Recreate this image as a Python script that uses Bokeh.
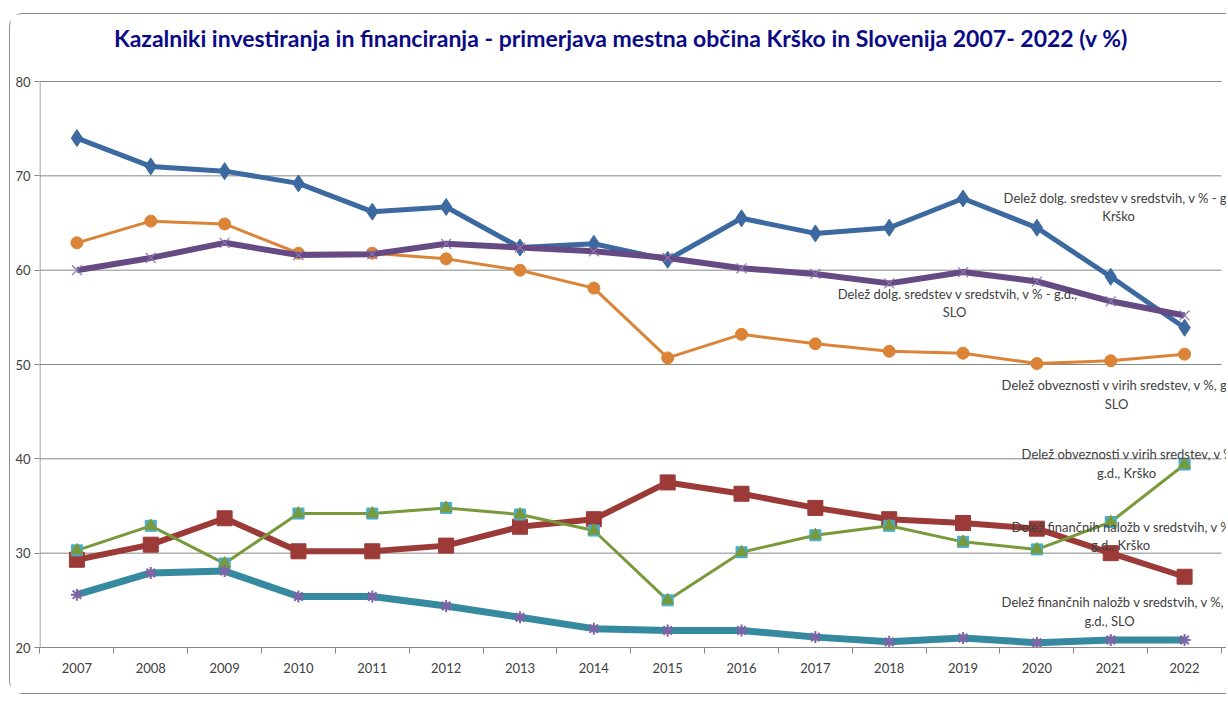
from bokeh.plotting import figure
from bokeh.models import Label, FixedTicker, Range1d
from bokeh.embed import file_html
from bokeh.resources import INLINE

FONT = "Lato"

years = list(range(2007, 2023))
y_ticks = [20, 30, 40, 50, 60, 70, 80]
grid_vals = [30, 40, 50, 60, 70, 80]

dolg_krsko = [74.0, 71.0, 70.5, 69.2, 66.2, 66.7, 62.4, 62.8, 61.1, 65.5, 63.9, 64.5, 67.6, 64.5, 59.3, 53.9]
obv_slo = [62.9, 65.2, 64.9, 61.8, 61.8, 61.2, 60.0, 58.1, 50.7, 53.2, 52.2, 51.4, 51.2, 50.1, 50.4, 51.1]
dolg_slo = [60.0, 61.3, 62.9, 61.6, 61.7, 62.8, 62.4, 62.0, 61.3, 60.2, 59.6, 58.6, 59.8, 58.8, 56.7, 55.2]
nal_krsko = [29.3, 30.9, 33.7, 30.2, 30.2, 30.8, 32.8, 33.6, 37.5, 36.3, 34.8, 33.6, 33.2, 32.6, 30.0, 27.5]
obv_krsko = [30.3, 32.9, 28.9, 34.2, 34.2, 34.8, 34.1, 32.4, 25.0, 30.1, 31.9, 32.9, 31.2, 30.4, 33.3, 39.4]
nal_slo = [25.6, 27.9, 28.1, 25.4, 25.4, 24.4, 23.2, 22.0, 21.8, 21.8, 21.1, 20.6, 21.0, 20.5, 20.8, 20.8]

title_text = "Kazalniki investiranja in financiranja - primerjava mestna občina Krško in Slovenija 2007- 2022  (v %)"

X0 = years[0] - 0.5
X1 = years[-1] + 0.5
XPX = 73.875   # pixels per year
YPX = 9.433    # pixels per percentage point
Y0, Y1 = y_ticks[0], y_ticks[-1]

# canvas starts at page (10.5, 14.5); frame spans page x 39.5..1228, y 14.5..647.5
x_start = X0 - 0.5 / XPX
x_end = X0 + (1228 - 40) / XPX
y_top = Y0 + (647.5 - 14.5) / YPX

p = figure(width=1217, height=681, output_backend="svg", toolbar_location=None, title=None,
           x_range=Range1d(x_start, x_end), y_range=Range1d(Y0, y_top),
           min_border_left=29, min_border_right=0, min_border_top=0, min_border_bottom=48)
p.margin = (13, 0, 0, 9)
p.outline_line_color = None
p.background_fill_color = "white"
p.border_fill_color = "white"
p.styles = {"border-left": "1.5px solid #8C8C8C", "border-top": "1.5px solid #8C8C8C",
            "border-bottom": "1.5px solid #8C8C8C", "border-top-left-radius": "14px",
            "border-bottom-left-radius": "14px"}

# grid (drawn as segments so they stop at the last category boundary)
p.xgrid.grid_line_color = None
p.ygrid.grid_line_color = None
p.segment(x0=[X0] * len(grid_vals), y0=grid_vals, x1=[X1] * len(grid_vals), y1=grid_vals,
          line_color="#878787", line_width=1)
# y axis line only from 20 to 80
p.segment(x0=[X0], y0=[Y0], x1=[X0], y1=[Y1], line_color="#878787", line_width=1)

# y axis
p.yaxis.ticker = FixedTicker(ticks=y_ticks)
p.yaxis.axis_line_color = None
p.yaxis.major_tick_line_color = "#878787"
p.yaxis.major_tick_out = 5
p.yaxis.major_tick_in = 0
p.yaxis.minor_tick_line_color = None
p.yaxis.major_label_text_font = FONT
p.yaxis.major_label_text_font_size = "13px"
p.yaxis.major_label_text_color = "#404040"
p.yaxis.major_label_standoff = 4

# x axis
p.xaxis.ticker = FixedTicker(ticks=years, minor_ticks=[y - 0.5 for y in years] + [X1])
p.xaxis.axis_line_color = "#878787"
p.xaxis.major_tick_line_color = None
p.xaxis.major_tick_out = 6
p.xaxis.major_tick_in = 0
p.xaxis.minor_tick_line_color = "#878787"
p.xaxis.minor_tick_out = 6
p.xaxis.minor_tick_in = 0
p.xaxis.major_label_text_font = FONT
p.xaxis.major_label_text_font_size = "13px"
p.xaxis.major_label_text_color = "#404040"
p.xaxis.major_label_standoff = 9

# series
p.line(years, obv_slo, line_color="#DB8437", line_width=3)
p.scatter(years, obv_slo, marker="circle", size=12, fill_color="#DB8437", line_color="#DB8437")

p.line(years, dolg_krsko, line_color="#3B69A0", line_width=5)
p.scatter(years, dolg_krsko, marker="diamond", size=17, fill_color="#3B69A0", line_color="#3B69A0")

p.line(years, dolg_slo, line_color="#654A83", line_width=6)
p.scatter(years, dolg_slo, marker="x", size=14, line_color="#8E74B0", line_width=1.2)

p.line(years, nal_krsko, line_color="#9B3A37", line_width=6)
p.scatter(years, nal_krsko, marker="square", size=15, fill_color="#9B3A37", line_color="#9B3A37")

p.line(years, obv_krsko, line_color="#789A3A", line_width=3)
p.scatter(years, obv_krsko, marker="square", size=11, fill_color="#4BACC6", line_color="#4BACC6")
p.scatter(years, obv_krsko, marker="triangle", size=12, fill_color="#789A3A", line_color="#789A3A")

p.line(years, nal_slo, line_color="#368AA0", line_width=7)
p.scatter(years, nal_slo, marker="asterisk", size=12, line_color="#7E64A6", line_width=2)


def px_to_x(px):
    return X0 + (px - 40) / XPX


def py_to_y(py):
    return Y0 + (647 - py) / YPX


def add_label(text, px, py, align):
    p.add_layout(Label(x=px_to_x(px), y=py_to_y(py), text=text, text_align=align,
                       text_baseline="middle", text_font=FONT, text_font_size="13px",
                       text_color="#404040"))


add_label("Delež dolg. sredstev v sredstvih, v % - g.d.,", 1004, 197, "left")
add_label("Krško", 1119, 215, "center")
add_label("Delež dolg. sredstev v sredstvih, v % - g.d.,", 838, 293, "left")
add_label("SLO", 955, 311, "center")
add_label("Delež obveznosti v virih sredstev, v %, g.d.,", 1002, 384, "left")
add_label("SLO", 1117, 403, "center")
add_label("Delež obveznosti v virih sredstev, v % -", 1022, 453, "left")
add_label("g.d., Krško", 1127, 472, "center")
add_label("Delež finančnih naložb v sredstvih, v % -", 1012, 526, "left")
add_label("g.d., Krško", 1121, 544, "center")
add_label("Delež finančnih naložb v sredstvih, v %,", 1002, 601, "left")
add_label("g.d., SLO", 1110, 620, "center")

# title
p.add_layout(Label(x=px_to_x(624), y=py_to_y(37), text=title_text, text_align="center",
                   text_baseline="middle", text_font=FONT, text_font_size="23px",
                   text_font_style="bold", text_color="#0A0A85"))

open("out.html", "w").write(file_html(p, INLINE))
